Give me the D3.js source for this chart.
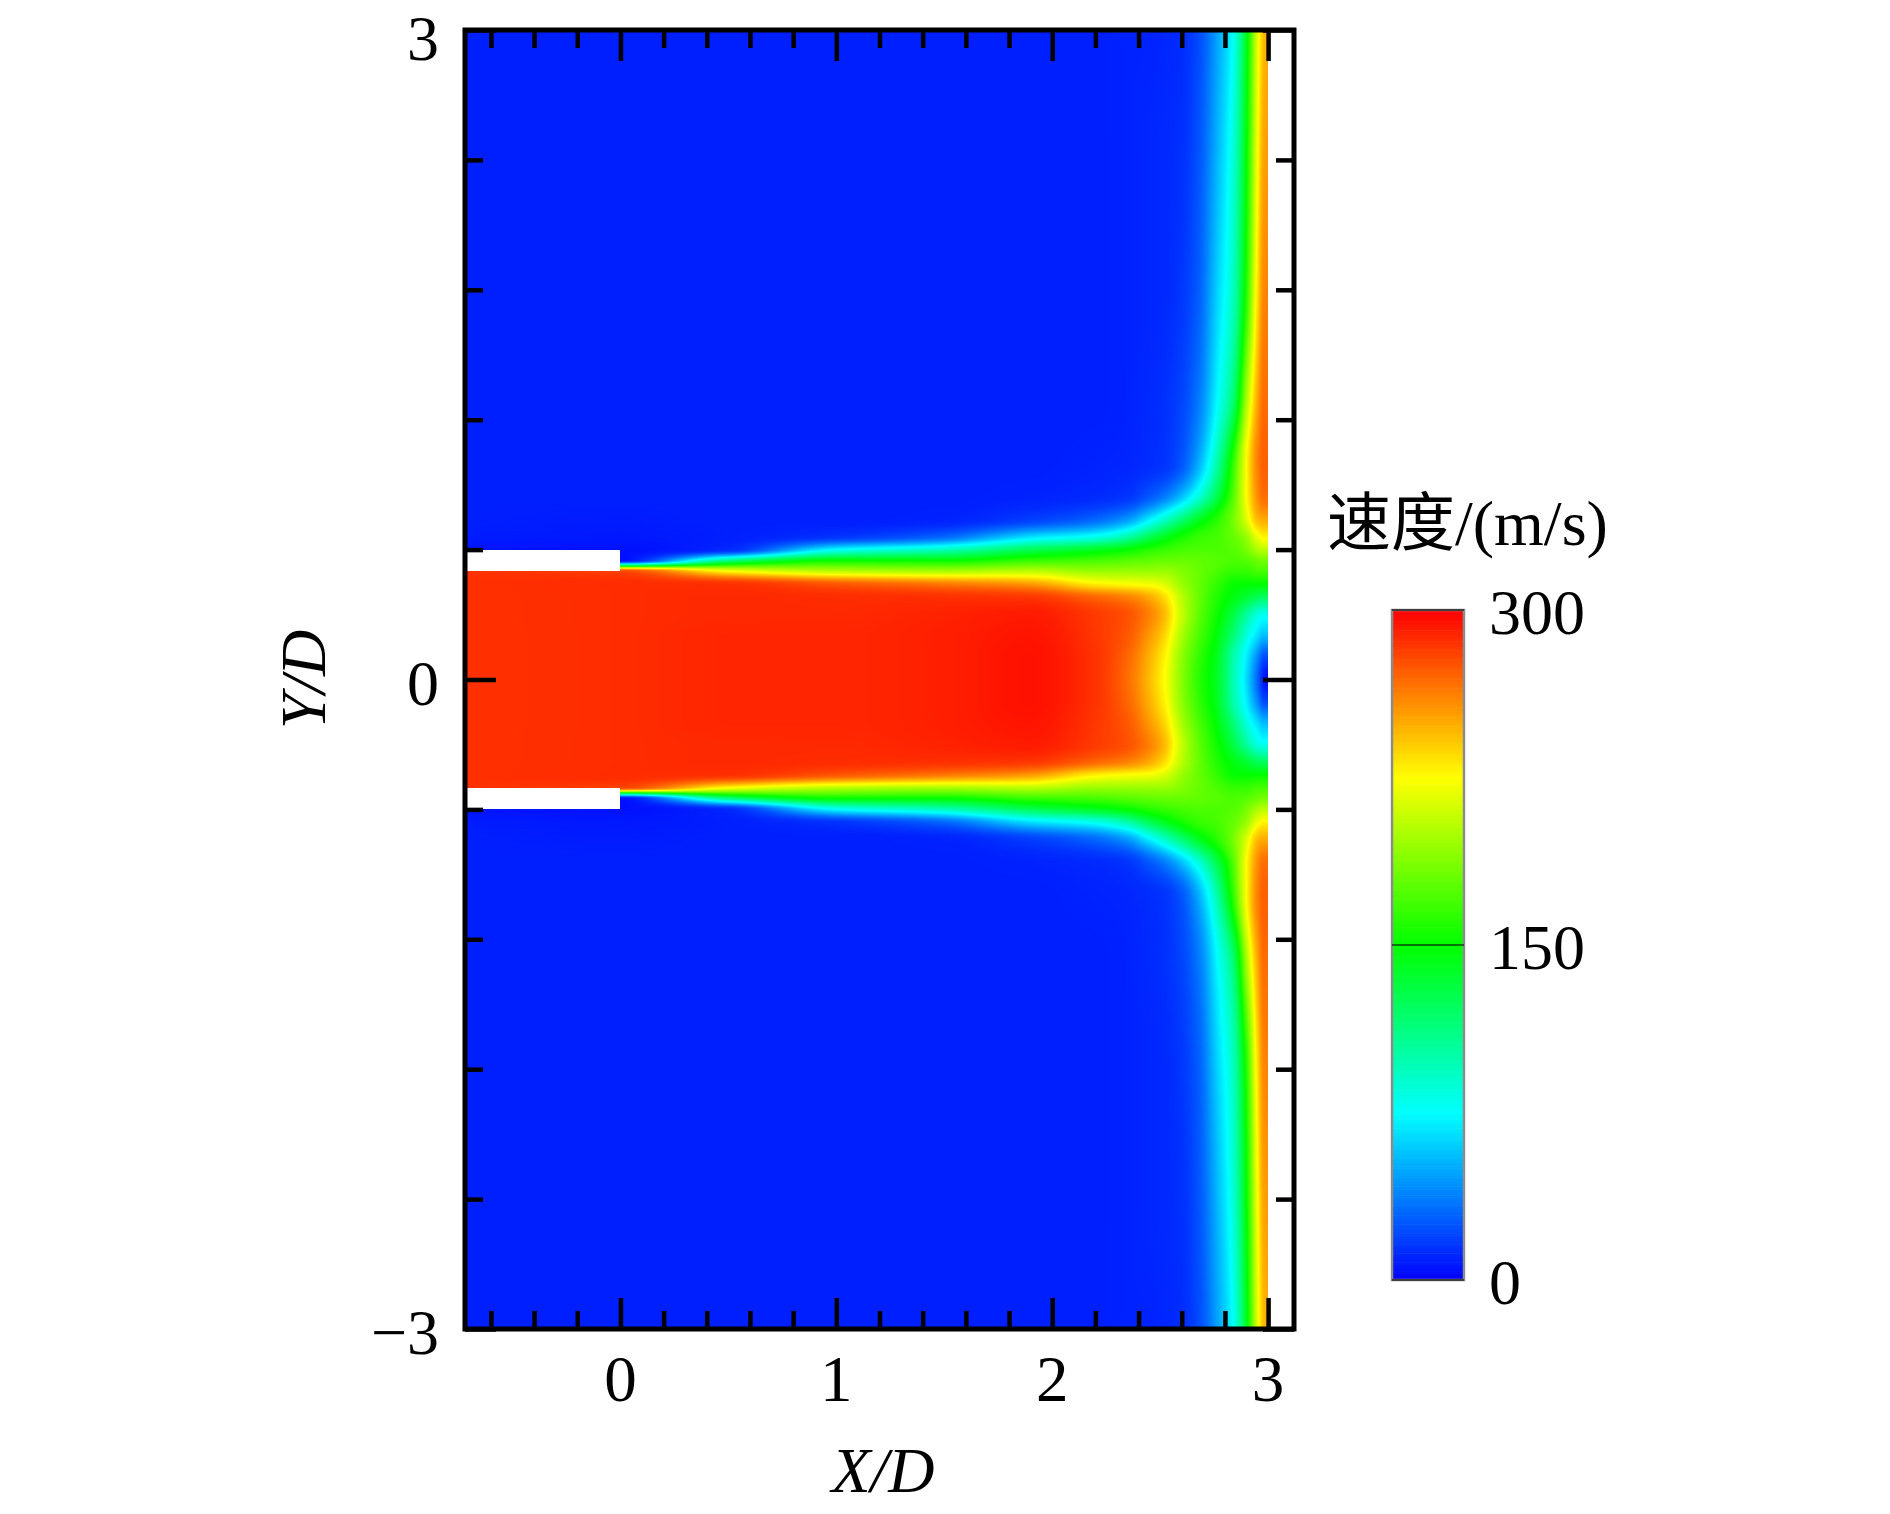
<!DOCTYPE html>
<html>
<head>
<meta charset="utf-8">
<script src="https://cdn.jsdelivr.net/npm/d3@7"></script>
<style>
  body { margin: 0; background: #fff; }
  svg text { font-family: "Liberation Serif", "Times New Roman", "Noto Sans CJK SC", serif; fill: #000; }
</style>
</head>
<body>
<svg id="chart" width="1890" height="1514"></svg>
<script>
// ========== Data ==========

// velocity field, upper half (the field is mirror-symmetric about Y/D = 0)
const xNodes = [-0.72, 0, 0.5, 1.0, 1.5, 1.9, 2.2, 2.35, 2.45, 2.52, 2.6, 2.68, 2.76, 2.84, 2.9, 2.95, 2.98, 3.0];
const yNodes = [0, 0.1, 0.2, 0.3, 0.38, 0.44, 0.5, 0.55, 0.6, 0.66, 0.74, 0.85, 1.0, 1.3, 1.8, 2.4, 3.0];
const speedRows = [
    [286, 287, 289, 289, 291, 295, 285, 268, 245, 225, 190, 162, 140,  98,  65,  30,   8,   3], // y 0
    [286, 287, 289, 289, 291, 295, 285, 270, 248, 228, 192, 165, 142, 100,  70,  40,  22,  20], // y 0.1
    [286, 287, 289, 289, 291, 294, 284, 274, 255, 237, 200, 172, 148, 115,  85,  65,  55,  55], // y 0.2
    [286, 287, 288, 288, 290, 292, 283, 276, 262, 245, 208, 178, 155, 130, 105,  85,  80,  80], // y 0.3
    [286, 287, 288, 287, 286, 284, 270, 262, 250, 235, 205, 180, 160, 145, 135, 125, 122, 122], // y 0.38
    [286, 287, 286, 275, 265, 255, 230, 225, 222, 215, 195, 180, 165, 152, 150, 150, 150, 150], // y 0.44
    [286, 280, 225, 205, 200, 205, 195, 195, 195, 195, 188, 180, 172, 165, 165, 170, 170, 170], // y 0.5
    [  5,   4, 110, 150, 150, 165, 170, 175, 178, 180, 180, 178, 175, 172, 175, 182, 185, 185], // y 0.55
    [  6,   5,  12,  75,  95, 125, 140, 150, 160, 165, 170, 172, 172, 175, 185, 200, 205, 205], // y 0.6
    [  8,   7,   9,  15,  30,  65,  80, 100, 125, 140, 155, 165, 170, 180, 195, 220, 228, 228], // y 0.66
    [  9,   8,   9,   9,  10,  18,  30,  45,  70,  90, 115, 140, 160, 185, 215, 245, 250, 250], // y 0.74
    [  9,   9,   9,   9,   9,  10,  12,  15,  25,  35,  55,  85, 125, 175, 225, 258, 268, 268], // y 0.85
    [  9,   9,   9,   9,   9,   9,  10,  11,  13,  15,  25,  52,  98, 165, 225, 262, 272, 272], // y 1.0
    [  9,   9,   9,   9,   9,   9,   9,  10,  12,  14,  20,  36,  72, 118, 198, 250, 268, 268], // y 1.3
    [  9,   9,   9,   9,   9,   9,   9,  10,  11,  12,  16,  28,  60,  95, 160, 232, 260, 262], // y 1.8
    [  9,   9,   9,   9,   9,   9,   9,  10,  11,  12,  14,  25,  52,  88, 150, 222, 252, 255], // y 2.4
    [  9,   9,   9,   9,   9,   9,   9,  10,  10,  11,  13,  22,  46,  78, 142, 215, 245, 250]  // y 3.0
];

// field extent and nozzle wall (white, no data)
const fieldX = [-0.72, 3.0];
const nozzleX = [-0.72, 0];
const nozzleWallY = [0.5, 0.6];

// colour legend
const colorStops = [0, 75, 150, 225, 300];
const colorValues = ["#0000ff", "#00ffff", "#00ff00", "#ffff00", "#ff0000"];
const barTicks = [0, 150, 300];
const barTitle = "速度/(m/s)";

// axes
const xDomain = [-0.72, 3.12];
const yDomain = [-3, 3];
const xMajorTicks = [0, 1, 2, 3];
const xMinorTicks = [-0.6, -0.4, -0.2, 0.2, 0.4, 0.6, 0.8, 1.2, 1.4, 1.6, 1.8, 2.2, 2.4, 2.6, 2.8];
const yMajorTicks = [-3, 0, 3];
const yMinorTicks = [-2.4, -1.8, -1.2, -0.6, 0.6, 1.2, 1.8, 2.4];
const yLabelTicks = [-3, 0, 3];

// ========== Setup ==========

const svg = d3.select("#chart");

const x = d3.scaleLinear().domain(xDomain).range([465, 1294]);
const y = d3.scaleLinear().domain(yDomain).range([1329, 30]);

const color = d3.scaleLinear()
    .domain(colorStops)
    .range(colorValues)
    .interpolate(d3.interpolateRgb)
    .clamp(true);

// ========== Shading helpers (monotone cubic between grid nodes) ==========

function bracket(nodes, v) {
    let i = d3.bisectRight(nodes, v) - 1;
    i = Math.max(0, Math.min(nodes.length - 2, i));
    const t = (v - nodes[i]) / (nodes[i + 1] - nodes[i]);
    return [i, Math.max(0, Math.min(1, t))];
}

function slopes(t, v, flatStart) {
    const n = t.length, h = [], d = [], m = new Array(n);
    for (let k = 0; k < n - 1; k++) {
        h[k] = t[k + 1] - t[k];
        d[k] = (v[k + 1] - v[k]) / h[k];
    }
    m[0] = flatStart ? 0 : d[0];
    m[n - 1] = d[n - 2];
    for (let k = 1; k < n - 1; k++) {
        if (d[k - 1] * d[k] <= 0) { m[k] = 0; continue; }
        const w1 = 2 * h[k] + h[k - 1], w2 = h[k] + 2 * h[k - 1];
        m[k] = (w1 + w2) / (w1 / d[k - 1] + w2 / d[k]);
    }
    return m;
}

function hermite(t, v, m, i, s) {
    const h = t[i + 1] - t[i], s2 = s * s, s3 = s2 * s;
    return (2 * s3 - 3 * s2 + 1) * v[i] + (s3 - 2 * s2 + s) * h * m[i] +
           (-2 * s3 + 3 * s2) * v[i + 1] + (s3 - s2) * h * m[i + 1];
}

// ========== Contour field ==========

function drawField() {
    const x0 = x.range()[0], y0 = y.range()[1];
    const w = Math.round(x.range()[1] - x0);
    const h = Math.round(y.range()[0] - y0);

    const lut = d3.range(0, 3001).map(i => d3.rgb(color(i / 10)));
    const rowSlopes = speedRows.map(row => slopes(xNodes, row, false));

    const canvas = document.createElement("canvas");
    canvas.width = w;
    canvas.height = h;
    const ctx = canvas.getContext("2d");
    const img = ctx.createImageData(w, h);

    const cols = d3.range(w).map(i => {
        const dx = x.invert(x0 + i + 0.5);
        const [xi, tx] = bracket(xNodes, dx);
        const vals = speedRows.map((row, r) => hermite(xNodes, row, rowSlopes[r], xi, tx));
        return { dx, vals, m: slopes(yNodes, vals, true) };
    });

    for (let j = 0; j < h; j++) {
        const ay = Math.abs(y.invert(y0 + j + 0.5));
        const [yi, ty] = bracket(yNodes, ay);
        for (let i = 0; i < w; i++) {
            const c = cols[i];
            const k = 4 * (j * w + i);
            const inWall = c.dx < nozzleX[1] && ay >= nozzleWallY[0] && ay <= nozzleWallY[1];
            if (c.dx > fieldX[1] || inWall) { img.data[k + 3] = 0; continue; }
            const v = hermite(yNodes, c.vals, c.m, yi, ty);
            const col = lut[Math.round(Math.max(0, Math.min(300, v)) * 10)];
            img.data[k] = col.r;
            img.data[k + 1] = col.g;
            img.data[k + 2] = col.b;
            img.data[k + 3] = 255;
        }
    }
    ctx.putImageData(img, 0, 0);

    svg.append("image")
        .attr("x", x0)
        .attr("y", y0)
        .attr("width", w)
        .attr("height", h)
        .attr("preserveAspectRatio", "none")
        .attr("href", canvas.toDataURL());
}

// ========== Axes ==========

function styleTicks(g) {
    g.select(".domain").remove();
    g.selectAll(".tick line").attr("stroke", "#000").attr("stroke-width", 4.5);
}

function drawAxes() {
    const major = 31, minor = 18;
    const bottom = y(yDomain[0]), top = y(yDomain[1]);
    const left = x(xDomain[0]), right = x(xDomain[1]);

    [[xMajorTicks, major], [xMinorTicks, minor]].forEach(([vals, len]) => {
        svg.append("g").attr("transform", `translate(0,${bottom})`)
            .call(d3.axisTop(x).tickValues(vals).tickSize(len).tickFormat(""))
            .call(styleTicks);
        svg.append("g").attr("transform", `translate(0,${top})`)
            .call(d3.axisBottom(x).tickValues(vals).tickSize(len).tickFormat(""))
            .call(styleTicks);
    });

    [[yMajorTicks, major], [yMinorTicks, minor]].forEach(([vals, len]) => {
        svg.append("g").attr("transform", `translate(${left},0)`)
            .call(d3.axisRight(y).tickValues(vals).tickSize(len).tickFormat(""))
            .call(styleTicks);
        svg.append("g").attr("transform", `translate(${right},0)`)
            .call(d3.axisLeft(y).tickValues(vals).tickSize(len).tickFormat(""))
            .call(styleTicks);
    });

    svg.append("rect")
        .attr("x", left)
        .attr("y", top)
        .attr("width", right - left)
        .attr("height", bottom - top)
        .attr("fill", "none")
        .attr("stroke", "#000")
        .attr("stroke-width", 5);

    svg.selectAll(".xlabel")
        .data(xMajorTicks)
        .join("text")
        .attr("class", "xlabel")
        .attr("x", d => x(d))
        .attr("y", 1401)
        .attr("text-anchor", "middle")
        .style("font-size", "65px")
        .text(d => d);

    svg.selectAll(".ylabel")
        .data(yLabelTicks)
        .join("text")
        .attr("class", "ylabel")
        .attr("x", 439)
        .attr("y", d => Math.max(y(d) + 25, 60))
        .attr("text-anchor", "end")
        .style("font-size", "64px")
        .text(d => d < 0 ? "\u2212" + Math.abs(d) : d);

    svg.append("text")
        .attr("x", 883)
        .attr("y", 1492)
        .attr("text-anchor", "middle")
        .style("font-size", "64px")
        .style("font-style", "italic")
        .text("X/D");

    svg.append("text")
        .attr("transform", `translate(325,${y(0)}) rotate(-90)`)
        .attr("text-anchor", "middle")
        .style("font-size", "64px")
        .style("font-style", "italic")
        .text("Y/D");
}

// ========== Colour bar ==========

function drawColorBar() {
    const bx = 1392, bw = 72;
    const cb = d3.scaleLinear().domain([0, 300]).range([1280, 610]);
    const levels = d3.range(0, 300, 1);

    svg.append("g")
        .selectAll("rect")
        .data(levels)
        .join("rect")
        .attr("x", bx)
        .attr("y", d => cb(d + 1))
        .attr("width", bw)
        .attr("height", d => cb(d) - cb(d + 1) + 0.6)
        .attr("fill", d => color(d + 0.5));

    svg.append("rect")
        .attr("x", bx)
        .attr("y", cb(300))
        .attr("width", bw)
        .attr("height", cb(0) - cb(300))
        .attr("fill", "none")
        .attr("stroke", "#8c8c8c")
        .attr("stroke-width", 2.5);

    svg.selectAll(".barline")
        .data(barTicks)
        .join("line")
        .attr("class", "barline")
        .attr("x1", bx)
        .attr("x2", bx + bw)
        .attr("y1", d => cb(d))
        .attr("y2", d => cb(d))
        .attr("stroke", "#000")
        .attr("stroke-opacity", 0.55)
        .attr("stroke-width", 2);

    svg.selectAll(".barlabel")
        .data(barTicks)
        .join("text")
        .attr("class", "barlabel")
        .attr("x", 1489)
        .attr("y", d => cb(d) + 24)
        .style("font-size", "64px")
        .text(d => d);

    svg.append("text")
        .attr("x", 1327)
        .attr("y", 545)
        .style("font-size", "64px")
        .text(barTitle);
}

drawField();
drawAxes();
drawColorBar();
</script>
</body>
</html>
